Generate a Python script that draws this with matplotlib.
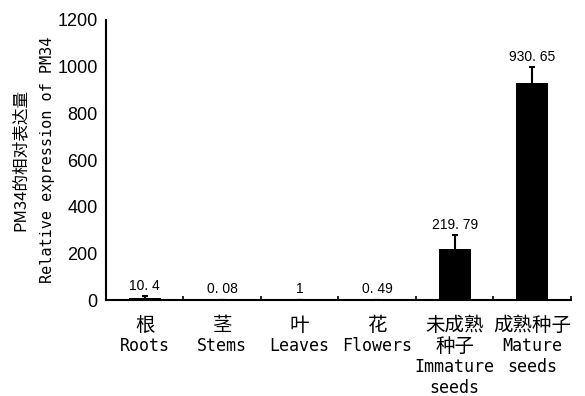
import numpy as np
import matplotlib.pyplot as plt

# Tissue expression of PM34
cn_labels = ["根", "茎", "叶", "花", "未成熟\n种子", "成熟种子"]
en_labels = ["Roots", "Stems", "Leaves", "Flowers", "Immature\nseeds", "Mature\nseeds"]
values = [10.4, 0.08, 1, 0.49, 219.79, 930.65]
errors = [5, 0.5, 0.5, 0.5, 58, 66]
value_text = ["10. 4", "0. 08", "1", "0. 49", "219. 79", "930. 65"]

mono = ["DejaVu Sans Mono", "Noto Sans CJK SC"]
cjk = ["Noto Sans CJK SC", "DejaVu Sans"]

fig = plt.figure(figsize=(5.85, 3.96), dpi=100)
ax = fig.add_axes([0.181, 0.2424, 0.795, 0.7071])

x = np.arange(len(values))
ax.bar(x, values, width=0.41, color="black",
       yerr=errors, error_kw=dict(ecolor="black", elinewidth=1.5, capsize=2.5, capthick=1.5))

# value labels above the error bars
for xi, v, e, t in zip(x, values, errors, value_text):
    ax.annotate(t, xy=(xi, v + e), xytext=(0, 7.5), textcoords="offset points",
                ha="center", va="center", fontsize=10, family="Liberation Sans")

ax.set_xlim(-0.5, 5.5)
ax.set_ylim(0, 1200)
ax.set_yticks(range(0, 1201, 200))
ax.tick_params(axis="y", length=0, labelsize=13, pad=6)
for lab in ax.get_yticklabels():
    lab.set_family("Liberation Sans")

# category labels: chinese rows then english rows, ~21px pitch
ax.set_xticks(x)
ax.set_xticklabels([])
ax.tick_params(axis="x", which="major", length=0)
row = 15.1
for xi, c, e in zip(x, cn_labels, en_labels):
    lines = [(s, 14, cjk) for s in c.split("\n")] + [(s, 12, mono) for s in e.split("\n")]
    for i, (s, size, fam) in enumerate(lines):
        ax.annotate(s, xy=(xi, 0), xycoords=("data", "axes fraction"),
                    xytext=(0, -18 - i * row), textcoords="offset points",
                    ha="center", va="center", fontsize=size, family=fam)

ax.set_xticks(np.arange(-0.5, 6, 1), minor=True)
ax.tick_params(axis="x", which="minor", direction="in", length=3, width=1.2)

for s in ["top", "right"]:
    ax.spines[s].set_visible(False)
for s in ["left", "bottom"]:
    ax.spines[s].set_linewidth(1.5)

# two-line y label
ax.text(-0.185, 0.5, "PM34的相对表达量", transform=ax.transAxes, rotation=90,
        ha="center", va="center", fontsize=12, family=cjk)
ax.text(-0.125, 0.5, "Relative expression of PM34", transform=ax.transAxes, rotation=90,
        ha="center", va="center", fontsize=11, family=mono)

fig.savefig("out.png", dpi=100)
